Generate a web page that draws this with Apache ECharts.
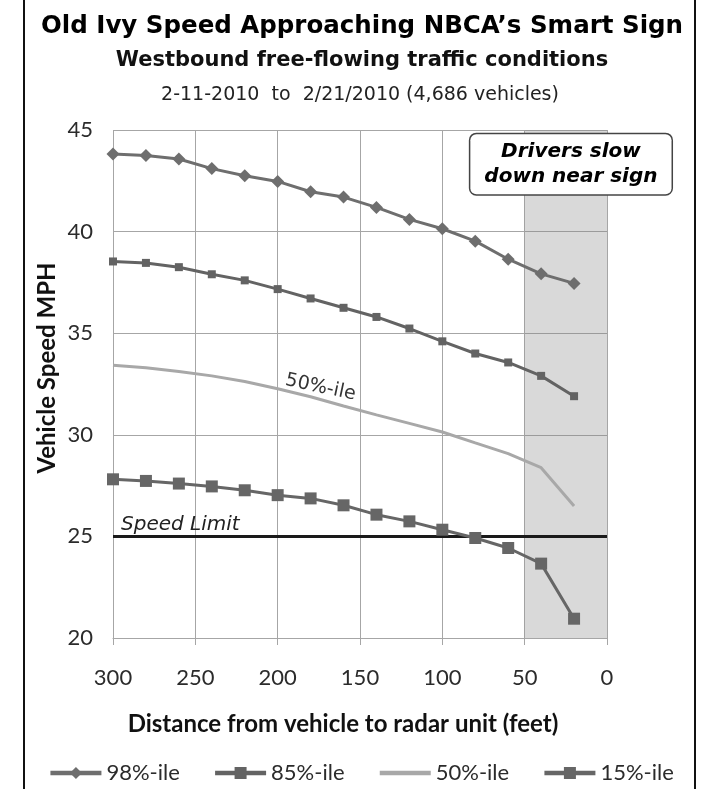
<!DOCTYPE html>
<html>
<head>
<meta charset="utf-8">
<script src="https://cdn.jsdelivr.net/npm/echarts@6/dist/echarts.min.js"></script>
<style>
  html, body { margin: 0; padding: 0; background: #ffffff; }
  #chart { width: 722px; height: 789px; }
</style>
</head>
<body>
<div id="chart"></div>
<script>
// ---- data ----
var distances = [300, 280, 260, 240, 220, 200, 180, 160, 140, 120, 100, 80, 60, 40, 20];
var p98 = [43.82, 43.75, 43.57, 43.10, 42.75, 42.47, 41.96, 41.70, 41.19, 40.60, 40.14, 39.53, 38.64, 37.92, 37.45];
var p85 = [38.53, 38.46, 38.25, 37.90, 37.60, 37.17, 36.71, 36.25, 35.80, 35.23, 34.60, 34.00, 33.56, 32.90, 31.90];
var p50 = [33.42, 33.30, 33.12, 32.90, 32.62, 32.27, 31.87, 31.42, 30.98, 30.56, 30.14, 29.60, 29.07, 28.38, 26.50];
var p15 = [27.81, 27.73, 27.60, 27.46, 27.27, 27.03, 26.87, 26.53, 26.07, 25.74, 25.33, 24.92, 24.43, 23.66, 20.95];
var seriesNames = ['98%-ile', '85%-ile', '50%-ile', '15%-ile'];
var speedLimit = 25;
var signZone = [50, 0];
var xTicks = [300, 250, 200, 150, 100, 50, 0];
var yTicks = [20, 25, 30, 35, 40, 45];

var titleText = 'Old Ivy Speed Approaching NBCA\u2019s Smart Sign';
var subtitleText = 'Westbound free-flowing traffic conditions';
var dateText = '2-11-2010  to  2/21/2010 (4,686 vehicles)';
var xName = 'Distance from vehicle to radar unit (feet)';
var yName = 'Vehicle Speed MPH';
var noteText = 'Drivers slow\ndown near sign';

function pairs(vals) {
  return distances.map(function (d, i) { return [d, vals[i]]; });
}

var tickFont = 'Lato';
var chart = echarts.init(document.getElementById('chart'));
var option = {
  backgroundColor: '#ffffff',
  animation: false,
  grid: { left: 113, right: 115, top: 130, bottom: 151, containLabel: false },
  xAxis: {
    type: 'value', inverse: true,
    min: xTicks[xTicks.length - 1], max: xTicks[0], interval: 50,
    axisLine: { show: true, lineStyle: { color: '#a6a6a6', width: 1 } },
    axisTick: { show: true, length: 7, lineStyle: { color: '#a6a6a6' } },
    splitLine: { show: true, lineStyle: { color: '#a6a6a6', width: 1 } },
    axisLabel: { margin: 29, fontFamily: tickFont, fontSize: 22, color: '#2b2b2b' }
  },
  yAxis: {
    type: 'value', min: yTicks[0], max: yTicks[yTicks.length - 1], interval: 5,
    axisLine: { show: false },
    axisTick: { show: false },
    splitLine: { show: true, lineStyle: { color: '#a6a6a6', width: 1 } },
    axisLabel: { margin: 20, fontFamily: tickFont, fontSize: 22, color: '#2b2b2b' }
  },
  legend: {
    data: [
      { name: seriesNames[0] },
      { name: seriesNames[1] },
      { name: seriesNames[2], itemStyle: { opacity: 0 } },
      { name: seriesNames[3] }
    ],
    left: 'center', top: 757,
    itemWidth: 51, itemHeight: 15, itemGap: 33,
    lineStyle: { width: 4.5 },
    textStyle: { fontFamily: tickFont, fontSize: 22, color: '#2b2b2b' }
  },
  series: [
    {
      name: seriesNames[0], type: 'line', data: pairs(p98),
      symbol: 'diamond', symbolSize: 13,
      lineStyle: { color: '#6e6e6e', width: 3 },
      itemStyle: { color: '#6e6e6e' },
      z: 5,
      markPoint: {
        symbol: 'rect', symbolSize: 0,
        data: [{ coord: [21.9, 43.32], value: noteText }],
        label: {
          show: true, position: 'inside', formatter: noteText,
          fontFamily: 'DejaVu Sans', fontWeight: 'bold', fontStyle: 'italic',
          fontSize: 20, lineHeight: 25, color: '#000000', align: 'center',
          backgroundColor: '#ffffff', borderColor: '#444444', borderWidth: 1.5,
          borderRadius: 6, padding: [5, 14, 5, 14]
        }
      }
    },
    {
      name: seriesNames[1], type: 'line', data: pairs(p85),
      symbol: 'rect', symbolSize: 8,
      lineStyle: { color: '#636363', width: 3 },
      itemStyle: { color: '#636363' },
      z: 5
    },
    {
      name: seriesNames[2], type: 'line', data: pairs(p50),
      symbol: 'none',
      lineStyle: { color: '#a8a8a8', width: 3 },
      itemStyle: { color: '#a8a8a8' },
      z: 4,
      markPoint: {
        symbol: 'rect', symbolSize: 0,
        data: [{ coord: [174, 32.33] }],
        label: {
          show: true, position: 'inside', formatter: '50%-ile', rotate: -12,
          fontFamily: 'DejaVu Sans', fontSize: 19, color: '#333333'
        }
      },
      markArea: {
        silent: true,
        itemStyle: { color: 'rgba(128,128,128,0.3)' },
        data: [[{ xAxis: signZone[0] }, { xAxis: signZone[1] }]]
      }
    },
    {
      name: seriesNames[3], type: 'line', data: pairs(p15),
      symbol: 'rect', symbolSize: 12,
      lineStyle: { color: '#666666', width: 3 },
      itemStyle: { color: '#666666' },
      z: 5,
      markLine: {
        silent: true, symbol: ['none', 'none'],
        lineStyle: { color: '#1a1a1a', width: 3, type: 'solid' },
        label: {
          show: true, position: 'insideStartTop', formatter: 'Speed Limit',
          fontFamily: 'DejaVu Sans', fontStyle: 'italic', fontSize: 20, color: '#222222',
          distance: [8, 2]
        },
        data: [[{ coord: [300, speedLimit] }, { coord: [0, speedLimit] }]]
      }
    }
  ],
  graphic: [
    { type: 'line', shape: { x1: 24, y1: 0, x2: 24, y2: 789 }, style: { stroke: '#111', lineWidth: 2 } },
    { type: 'line', shape: { x1: 695, y1: 0, x2: 695, y2: 789 }, style: { stroke: '#111', lineWidth: 2 } },
    { type: 'text', x: 362, y: 27, style: { text: titleText, fill: '#000', font: 'bold 24.5px "DejaVu Sans"', textAlign: 'center', textVerticalAlign: 'middle' } },
    { type: 'text', x: 362, y: 61, style: { text: subtitleText, fill: '#111', font: 'bold 21px "DejaVu Sans"', textAlign: 'center', textVerticalAlign: 'middle' } },
    { type: 'text', x: 360, y: 95, style: { text: dateText, fill: '#222', font: '19px "DejaVu Sans"', textAlign: 'center', textVerticalAlign: 'middle' } },
    { type: 'text', x: 343, y: 724, style: { text: xName, fill: '#111', font: 'bold 24px Lato', textAlign: 'center', textVerticalAlign: 'middle' } },
    { type: 'text', x: 47, y: 368, rotation: Math.PI / 2, style: { text: yName, fill: '#111', font: 'bold 24px Lato', textAlign: 'center', textVerticalAlign: 'middle' } }
  ]
};
chart.setOption(option);
</script>
</body>
</html>
